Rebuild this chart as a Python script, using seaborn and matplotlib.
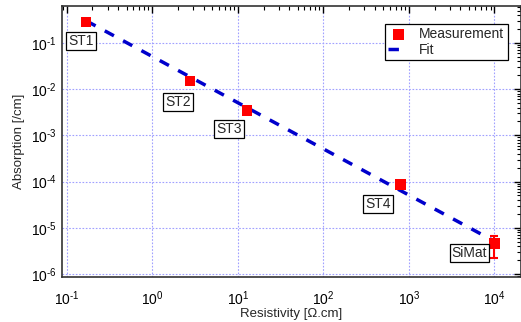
import matplotlib
matplotlib.use("Agg")
import matplotlib.pyplot as plt
import seaborn as sns
import numpy as np
import pandas as pd
from matplotlib.ticker import LogLocator, NullFormatter, FuncFormatter

# Data
samples = ["ST1", "ST2", "ST3", "ST4", "SiMat"]
resistivity = [0.168, 2.77, 12.8, 790.0, 1.0e4]
absorption = [0.285, 0.015, 0.0034, 8.5e-5, 4.5e-6]
err_low = [0, 0, 0, 0, 2.25e-6]
err_high = [0, 0, 0, 0, 2.2e-6]
fit_x = [0.17, 1.0e4]
fit_y = [0.30, 5.1e-6]
label_offsets = [(-5, -19), (-12, -21), (-18, -18), (-22, -19), (-25, -9)]

sns.set_theme(style="white")
plt.rcParams['font.family'] = ['Liberation Sans', 'DejaVu Sans']
plt.rcParams['mathtext.fontset'] = 'custom'
plt.rcParams['mathtext.rm'] = 'Liberation Sans'
plt.rcParams['mathtext.it'] = 'Liberation Sans'
plt.rcParams['mathtext.default'] = 'regular'

fig = plt.figure(figsize=(5.21, 3.22), dpi=100)
ax = fig.add_axes([62/521, 1-277/322, 459/521, 271/322])

meas = pd.DataFrame({"x": resistivity, "y": absorption})
fit = pd.DataFrame({"x": fit_x, "y": fit_y})

ax.errorbar(resistivity, absorption, yerr=[err_low, err_high], fmt='none',
            ecolor='#ff0000', elinewidth=1.5, capsize=3, capthick=1.5, zorder=3)
sns.lineplot(data=fit, x="x", y="y", ax=ax, color='#0000cc', lw=2.5,
             linestyle=(0, (3, 3)), label="Fit", zorder=4)
sns.scatterplot(data=meas, x="x", y="y", ax=ax, color='#ff0000', marker='s',
                s=60, edgecolor='none', label="Measurement", zorder=5)

ax.set_xscale('log')
ax.set_yscale('log')
ax.set_xlim(10**-1.055, 10**4.31)
ax.set_ylim(10**-6.065, 10**-0.20)

def fmt(v, pos):
    e = int(round(np.log10(v)))
    return '10$^{%s}$' % ('\u2010%d' % -e if e < 0 else '%d' % e)

ax.xaxis.set_major_locator(LogLocator(base=10, numticks=20))
ax.yaxis.set_major_locator(LogLocator(base=10, numticks=20))
ax.xaxis.set_minor_locator(LogLocator(base=10, subs=np.arange(2, 10), numticks=20))
ax.yaxis.set_minor_locator(LogLocator(base=10, subs=np.arange(2, 10), numticks=20))
ax.xaxis.set_major_formatter(FuncFormatter(fmt))
ax.yaxis.set_major_formatter(FuncFormatter(fmt))
ax.xaxis.set_minor_formatter(NullFormatter())
ax.yaxis.set_minor_formatter(NullFormatter())

ax.tick_params(which='both', direction='in', top=True, right=True, colors='black',
               labelsize=10)
ax.tick_params(which='major', length=5, width=1)
ax.tick_params(which='minor', length=3, width=0.8)
ax.tick_params(axis='x', which='major', pad=9)
ax.tick_params(axis='y', which='major', pad=4)

for s in ax.spines.values():
    s.set_color('#333333')
    s.set_linewidth(1.2)

ax.grid(True, which='major', color='#a0a0ff', linestyle=(0, (1.5, 1.5)), lw=0.8)
ax.set_axisbelow(True)

ax.set_xlabel("Resistivity [Ω.cm]", fontsize=9.5, labelpad=0)
ax.set_ylabel("Absorption [/cm]", fontsize=9.5, labelpad=4)

for name, x, y, off in zip(samples, resistivity, absorption, label_offsets):
    ax.annotate(name, (x, y), xytext=off, textcoords='offset pixels',
                ha='center', va='center', fontsize=10,
                bbox=dict(boxstyle='square,pad=0.15', fc='white', ec='black', lw=0.9),
                zorder=6)

handles, labels = ax.get_legend_handles_labels()
order = [labels.index("Measurement"), labels.index("Fit")]
leg = ax.legend([handles[i] for i in order], [labels[i] for i in order],
                loc='upper left', bbox_to_anchor=((385-62)/459, 1-(24-6)/271),
                fontsize=10, frameon=True, fancybox=False, framealpha=1,
                edgecolor='black', borderpad=0.25, labelspacing=0.1,
                handlelength=1.4, handletextpad=0.8, borderaxespad=0)
leg.get_frame().set_linewidth(0.9)

fig.savefig("out.png", dpi=100)
